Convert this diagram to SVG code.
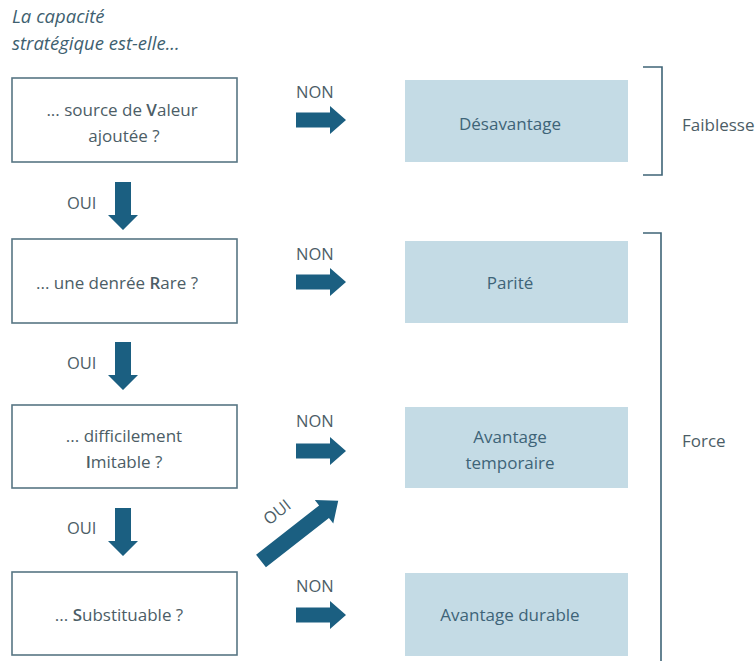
<svg xmlns="http://www.w3.org/2000/svg" width="756" height="661" viewBox="0 0 756 661">
  <style>
    text { font-family: "Open Sans", "Noto Sans", "Liberation Sans", sans-serif; }
    .q { fill: none; stroke: #587684; stroke-width: 1.6; }
    .r { fill: #c4dbe5; }
    .t { font-size: 17px; fill: #4c5d66; text-anchor: middle; }
    .rt { font-size: 17px; fill: #3e6478; text-anchor: middle; }
    .lbl { font-size: 16.5px; fill: #4c5d66; }
    .k { font-weight: 600; }
    .title { font-size: 18.5px; font-style: italic; fill: #3e5f70; }
    .side { font-size: 17px; fill: #4c5d66; }
    .arr { fill: #1b5f81; }
    .br { fill: none; stroke: #3f6477; stroke-width: 1.6; }
  </style>
  <defs>
    <!-- right-pointing block arrow, origin at tail centre -->
    <path id="harrow" d="M0,-7.5 H34 V-14 L50,0 L34,14 V7.5 H0 Z"/>
    <!-- down-pointing block arrow, origin at tail centre -->
    <path id="varrow" d="M-8,0 H8 V33 H15 L0,48 L-15,33 H-8 Z"/>
  </defs>

  <rect width="756" height="661" fill="#ffffff"/>

  <g id="title">
    <text class="title" x="12" y="23">La capacité</text>
    <text class="title" x="12" y="50">stratégique est-elle...</text>
  </g>

  <!-- question column -->
  <g id="q-valeur">
    <rect class="q" x="12" y="78" width="225" height="84"/>
    <text class="t" x="122" y="116">... source de <tspan class="k">V</tspan>aleur</text>
    <text class="t" x="124" y="142">ajoutée ?</text>
  </g>
  <g id="q-rare">
    <rect class="q" x="12" y="239" width="225" height="84"/>
    <text class="t" x="117" y="289">... une denrée <tspan class="k">R</tspan>are ?</text>
  </g>
  <g id="q-imitable">
    <rect class="q" x="12" y="405" width="225" height="83"/>
    <text class="t" x="124" y="442">... difficilement</text>
    <text class="t" x="124" y="468"><tspan class="k">I</tspan>mitable ?</text>
  </g>
  <g id="q-substituable">
    <rect class="q" x="12" y="572" width="225" height="83"/>
    <text class="t" x="119" y="621">... <tspan class="k">S</tspan>ubstituable ?</text>
  </g>

  <!-- outcome column -->
  <g id="o-desavantage">
    <rect class="r" x="405" y="80" width="223" height="82"/>
    <text class="rt" x="510" y="130">Désavantage</text>
  </g>
  <g id="o-parite">
    <rect class="r" x="405" y="241" width="223" height="82"/>
    <text class="rt" x="510" y="289">Parité</text>
  </g>
  <g id="o-temporaire">
    <rect class="r" x="405" y="407" width="223" height="81"/>
    <text class="rt" x="510" y="443">Avantage</text>
    <text class="rt" x="510" y="469">temporaire</text>
  </g>
  <g id="o-durable">
    <rect class="r" x="405" y="573" width="223" height="83"/>
    <text class="rt" x="510" y="621">Avantage durable</text>
  </g>

  <!-- brackets -->
  <g id="b-faiblesse">
    <path class="br" d="M643,67 H662 V175 H643"/>
    <text class="side" x="682" y="131">Faiblesse</text>
  </g>
  <g id="b-force">
    <path class="br" d="M643,233 H661 V661"/>
    <text class="side" x="682" y="447">Force</text>
  </g>

  <g id="connectors">
    <use href="#harrow" class="arr" x="296" y="120"/>
    <use href="#harrow" class="arr" x="296" y="282"/>
    <use href="#harrow" class="arr" x="296" y="451"/>
    <use href="#harrow" class="arr" x="296" y="615"/>
    <text class="lbl" x="296" y="98">NON</text>
    <text class="lbl" x="296" y="260">NON</text>
    <text class="lbl" x="296" y="427">NON</text>
    <text class="lbl" x="296" y="592">NON</text>

    <use href="#varrow" class="arr" x="123" y="182"/>
    <use href="#varrow" class="arr" x="123" y="342"/>
    <use href="#varrow" class="arr" x="123" y="508"/>
    <text class="lbl" x="67" y="209">OUI</text>
    <text class="lbl" x="67" y="369">OUI</text>
    <text class="lbl" x="67" y="534">OUI</text>

    <g transform="translate(261,561) rotate(-38)">
      <path class="arr" d="M0,-8 H80 V-15 L98,0 L80,15 V8 H0 Z"/>
      <text class="lbl" x="28" y="-23">OUI</text>
    </g>
  </g>
</svg>
